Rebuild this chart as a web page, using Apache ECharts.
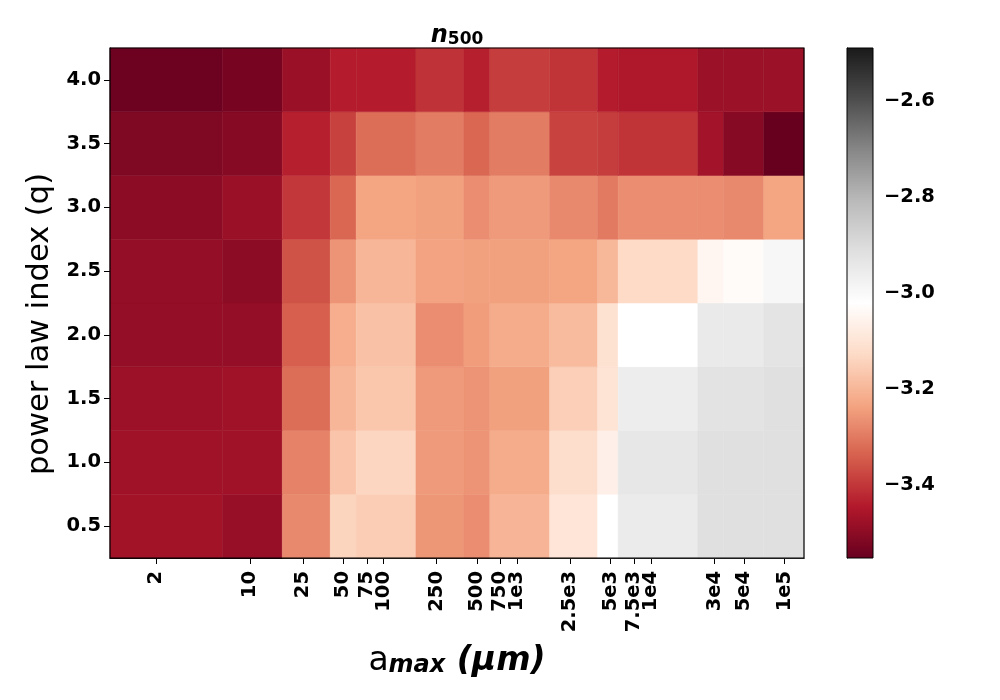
<!DOCTYPE html>
<html>
<head>
<meta charset="utf-8">
<script src="https://cdn.jsdelivr.net/npm/echarts@6/dist/echarts.min.js"></script>
<style>
  html, body { margin: 0; padding: 0; background: #fff; }
  #chart-container { width: 1000px; height: 700px; }
</style>
</head>
<body>
<div id="chart-container"></div>
<script>
// tick positions on the a_max axis (micron) and their labels
const aMaxTicks = [2, 10, 25, 50, 75, 100, 250, 500, 750, 1e3, 2.5e3, 5e3, 7.5e3, 1e4, 3e4, 5e4, 1e5];
const aMaxLabels = ['2', '10', '25', '50', '75', '100', '250', '500', '750', '1e3', '2.5e3', '5e3', '7.5e3', '1e4', '3e4', '5e4', '1e5'];

// cell edges along a_max (micron)
const aMaxEdges = [0.9, 6.25, 17.5, 40, 62.5, 175, 400, 625, 1750, 4000, 5700, 22500, 35000, 70000, 140000];

// power law index rows
const qValues = [0.5, 1.0, 1.5, 2.0, 2.5, 3.0, 3.5, 4.0];
const qTicks = [0.5, 1.0, 1.5, 2.0, 2.5, 3.0, 3.5, 4.0];

// n_500 (log) per row of q, one value per a_max cell
const n500_q05 = [-3.468, -3.485, -3.276, -3.139, -3.155, -3.255, -3.270, -3.203, -3.097, -3.021, -2.952, -2.915, -2.915, -2.915];
const n500_q10 = [-3.471, -3.471, -3.288, -3.173, -3.137, -3.250, -3.260, -3.220, -3.118, -3.065, -2.940, -2.915, -2.915, -2.915];
const n500_q15 = [-3.477, -3.471, -3.318, -3.200, -3.167, -3.250, -3.260, -3.240, -3.150, -3.100, -2.961, -2.926, -2.926, -2.915];
const n500_q20 = [-3.490, -3.490, -3.340, -3.215, -3.176, -3.270, -3.245, -3.220, -3.190, -3.106, -3.021, -2.950, -2.950, -2.930];
const n500_q25 = [-3.490, -3.500, -3.359, -3.260, -3.200, -3.236, -3.240, -3.240, -3.232, -3.198, -3.127, -3.047, -3.033, -2.993];
const n500_q30 = [-3.500, -3.480, -3.400, -3.329, -3.233, -3.240, -3.270, -3.250, -3.276, -3.300, -3.270, -3.270, -3.276, -3.233];
const n500_q35 = [-3.518, -3.507, -3.435, -3.384, -3.318, -3.297, -3.329, -3.297, -3.382, -3.390, -3.404, -3.467, -3.507, -3.552];
const n500_q40 = [-3.545, -3.530, -3.480, -3.440, -3.440, -3.408, -3.435, -3.390, -3.404, -3.440, -3.450, -3.478, -3.478, -3.478];
const n500Rows = [n500_q05, n500_q10, n500_q15, n500_q20, n500_q25, n500_q30, n500_q35, n500_q40];

// colour scale
const vMin = -3.552;
const vMax = -2.49;
const cbarTicks = [-3.4, -3.2, -3.0, -2.8, -2.6];
const rdgy = ['#67001f', '#b2182b', '#d6604d', '#f4a582', '#fddbc7', '#ffffff',
              '#e0e0e0', '#bababa', '#878787', '#4d4d4d', '#1a1a1a'];

const FONT = 'DejaVu Sans';

// build cells: [x0, x1, y0, y1, value] with x in log10 space
const cells = [];
n500Rows.forEach((row, i) => {
    const q = qValues[i];
    row.forEach((v, j) => {
        cells.push([Math.log10(aMaxEdges[j]), Math.log10(aMaxEdges[j + 1]), q - 0.25, q + 0.25, v]);
    });
});

const dom = document.getElementById('chart-container');
const myChart = echarts.init(dom, null, { renderer: 'canvas' });

const minusFmt = v => (v < 0 ? '\u2212' : '') + Math.abs(v).toFixed(1);

const option = {
    backgroundColor: '#fff',
    animation: false,
    textStyle: { fontFamily: FONT },
    grid: [
        { left: 110, top: 48, width: 694, height: 510, show: true, borderColor: '#000', borderWidth: 1.2, backgroundColor: 'transparent', z: 5 },
        { left: 847, top: 48, width: 26, height: 510, show: true, borderColor: '#000', borderWidth: 1, backgroundColor: 'transparent', z: 5 }
    ],
    xAxis: [
        {
            type: 'value',
            gridIndex: 0,
            min: Math.log10(aMaxEdges[0]),
            max: Math.log10(aMaxEdges[aMaxEdges.length - 1]),
            splitLine: { show: false },
            axisLine: { show: true, onZero: false, lineStyle: { color: '#000', width: 1.2 } },
            axisTick: { show: true, length: 6, lineStyle: { color: '#000' }, customValues: aMaxTicks.map(Math.log10) },
            axisLabel: {
                customValues: aMaxTicks.map(Math.log10),
                rotate: 90,
                margin: 13,
                color: '#000',
                fontSize: 19.5,
                fontWeight: 'bold',
                fontFamily: FONT,
                formatter: function (value) {
                    let best = 0;
                    aMaxTicks.forEach((t, k) => {
                        if (Math.abs(Math.log10(t) - value) < Math.abs(Math.log10(aMaxTicks[best]) - value)) best = k;
                    });
                    return aMaxLabels[best];
                }
            }
        },
        { type: 'value', gridIndex: 1, min: 0, max: 1, show: false }
    ],
    yAxis: [
        {
            type: 'value',
            gridIndex: 0,
            min: 0.25,
            max: 4.25,
            splitLine: { show: false },
            axisLine: { show: true, onZero: false, lineStyle: { color: '#000', width: 1.2 } },
            axisTick: { show: true, length: 6, lineStyle: { color: '#000' }, customValues: qTicks },
            axisLabel: {
                customValues: qTicks,
                margin: 9,
                color: '#000',
                fontSize: 19.5,
                fontWeight: 'bold',
                fontFamily: FONT,
                formatter: v => v.toFixed(1)
            }
        },
        {
            type: 'value',
            gridIndex: 1,
            position: 'right',
            min: vMin,
            max: vMax,
            splitLine: { show: false },
            axisLine: { show: true, lineStyle: { color: '#000' } },
            axisTick: { show: true, length: 6, lineStyle: { color: '#000' }, customValues: cbarTicks },
            axisLabel: {
                customValues: cbarTicks,
                margin: 11,
                color: '#000',
                fontSize: 19.5,
                fontWeight: 'bold',
                fontFamily: FONT,
                formatter: minusFmt
            }
        }
    ],
    visualMap: {
        type: 'continuous',
        show: false,
        min: vMin,
        max: vMax,
        dimension: 4,
        seriesIndex: 0,
        inRange: { color: rdgy }
    },
    graphic: [
        {
            type: 'text',
            x: 457,
            y: 33,
            style: {
                text: '{n|n}{s|500}',
                align: 'center',
                verticalAlign: 'middle',
                rich: {
                    n: { fontFamily: FONT, fontSize: 24, fontWeight: 'bold', fontStyle: 'italic', lineHeight: 30, verticalAlign: 'bottom', fill: '#000' },
                    s: { fontFamily: FONT, fontSize: 17, fontWeight: 'bold', lineHeight: 17, padding: [12, 0, 0, 0], verticalAlign: 'bottom', fill: '#000' }
                }
            }
        },
        {
            type: 'text',
            x: 457,
            y: 657,
            style: {
                text: '{a|a}{m|max}{u| (\u03bcm)}',
                align: 'center',
                verticalAlign: 'middle',
                rich: {
                    a: { fontFamily: FONT, fontSize: 33, lineHeight: 42, verticalAlign: 'bottom', fill: '#000' },
                    m: { fontFamily: FONT, fontSize: 24, fontWeight: 'bold', fontStyle: 'italic', lineHeight: 24, padding: [19, 0, 0, 0], verticalAlign: 'bottom', fill: '#000' },
                    u: { fontFamily: FONT, fontSize: 33, fontWeight: 'bold', fontStyle: 'italic', lineHeight: 42, verticalAlign: 'bottom', fill: '#000' }
                }
            }
        },
        {
            type: 'text',
            x: 40,
            y: 324,
            rotation: Math.PI / 2,
            style: {
                text: 'power law index (q)',
                fontFamily: FONT,
                fontSize: 30.5,
                align: 'center',
                verticalAlign: 'middle',
                fill: '#000'
            }
        }
    ],
    series: [
        {
            type: 'custom',
            xAxisIndex: 0,
            yAxisIndex: 0,
            data: cells,
            encode: { x: [0, 1], y: [2, 3] },
            renderItem: function (params, api) {
                const p0 = api.coord([api.value(0), api.value(3)]);
                const p1 = api.coord([api.value(1), api.value(2)]);
                const color = api.visual('color');
                return {
                    type: 'rect',
                    shape: { x: p0[0], y: p0[1], width: p1[0] - p0[0], height: p1[1] - p0[1] },
                    style: { fill: color, stroke: color, lineWidth: 0.5 }
                };
            }
        },
        {
            // colour bar
            type: 'custom',
            xAxisIndex: 1,
            yAxisIndex: 1,
            data: [[0, vMin, 1, vMax]],
            renderItem: function (params, api) {
                const p0 = api.coord([api.value(0), api.value(3)]);
                const p1 = api.coord([api.value(2), api.value(1)]);
                const stops = rdgy.map((c, k) => ({ offset: k / (rdgy.length - 1), color: c }));
                return {
                    type: 'rect',
                    shape: { x: p0[0], y: p0[1], width: p1[0] - p0[0], height: p1[1] - p0[1] },
                    style: { fill: new echarts.graphic.LinearGradient(0, 1, 0, 0, stops) }
                };
            }
        }
    ]
};

myChart.setOption(option);
window.addEventListener('resize', () => {
    myChart.resize();
});
</script>
</body>
</html>
